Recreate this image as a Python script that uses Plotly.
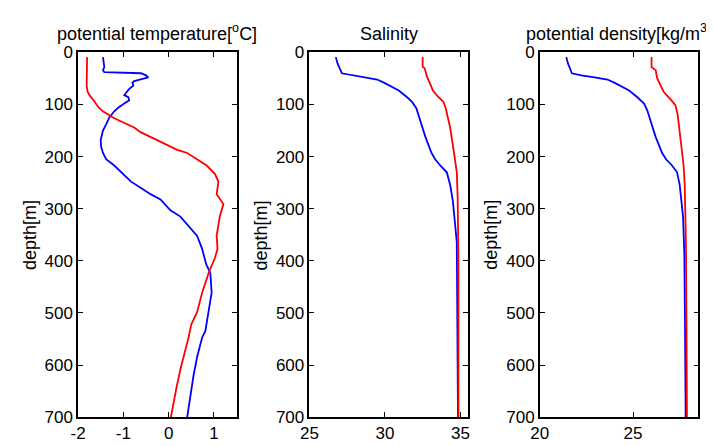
import plotly.graph_objects as go

# ---------------- data ----------------
# Potential temperature [degC]
temp_blue_depth = [9, 28, 34, 38, 40, 44, 48, 52, 55, 58, 64, 70, 82, 86, 92, 98, 105, 113, 125, 138, 150,
                   168, 181, 193, 205, 217, 233, 248, 260, 272, 282, 303, 315, 334, 352, 377, 398, 407, 423,
                   450, 461, 498, 535, 547, 584, 620, 657, 700]
temp_blue = [-1.45, -1.42, -1.45, -1.42, -0.61, -0.50, -0.45, -0.61, -0.76, -0.80, -0.78, -0.87, -0.98, -0.89,
             -0.87, -0.98, -1.10, -1.20, -1.31, -1.38, -1.45, -1.50, -1.49, -1.45, -1.38, -1.20, -1.02, -0.83,
             -0.61, -0.40, -0.18, 0.04, 0.26, 0.44, 0.63, 0.74, 0.81, 0.83, 0.92, 0.94, 0.95, 0.88, 0.81, 0.74,
             0.63, 0.55, 0.48, 0.41]
temp_red_depth = [9, 27, 64, 75, 83, 95, 105, 113, 125, 132, 144, 153, 168, 187, 193, 205, 217, 233, 248, 272,
                  291, 315, 352, 377, 395, 419, 450, 461, 498, 522, 547, 584, 608, 645, 691, 700]
temp_red = [-1.80, -1.80, -1.81, -1.79, -1.74, -1.63, -1.55, -1.45, -1.23, -1.06, -0.76, -0.62, -0.25, 0.19,
            0.41, 0.63, 0.84, 1.02, 1.10, 1.06, 1.21, 1.13, 1.06, 1.08, 1.02, 0.90, 0.77, 0.74, 0.63, 0.50,
            0.44, 0.33, 0.26, 0.17, 0.08, 0.05]

# Salinity
sal_blue_depth = [9, 21, 40, 44, 48, 52, 58, 64, 73, 86, 95, 107, 125, 144, 162, 193, 205, 217, 230, 254, 285,
                  315, 346, 364, 444, 700]
sal_blue = [26.75, 26.86, 27.15, 27.96, 28.84, 29.49, 29.93, 30.37, 30.92, 31.47, 31.80, 32.08, 32.28, 32.45,
            32.68, 33.09, 33.33, 33.66, 34.10, 34.32, 34.50, 34.60, 34.72, 34.76, 34.78, 34.84]
sal_red_depth = [9, 28, 30, 46, 58, 73, 86, 95, 107, 144, 193, 211, 230, 279, 400, 700]
sal_red = [32.50, 32.50, 32.63, 32.78, 32.96, 33.18, 33.55, 33.88, 34.03, 34.32, 34.58, 34.69, 34.76, 34.82,
           34.87, 34.87]

# Potential density [kg/m3]
dens_blue_depth = [9, 21, 40, 44, 48, 52, 58, 64, 73, 86, 98, 111, 132, 162, 193, 205, 217, 230, 254, 285, 315,
                   346, 389, 500, 655, 700]
dens_blue = [21.42, 21.51, 21.72, 22.22, 22.93, 23.63, 23.99, 24.34, 24.79, 25.23, 25.59, 25.76, 25.94, 26.21,
             26.56, 26.77, 27.09, 27.36, 27.50, 27.61, 27.68, 27.71, 27.75, 27.78, 27.82, 27.82]
dens_red_depth = [9, 28, 34, 49, 61, 76, 92, 101, 119, 162, 193, 217, 254, 315, 377, 500, 655, 700]
dens_red = [25.99, 25.99, 26.21, 26.29, 26.44, 26.65, 27.06, 27.27, 27.39, 27.54, 27.62, 27.71, 27.77, 27.82,
            27.84, 27.86, 27.89, 27.89]

titles = ["potential temperature[<sup>o</sup>C]", "Salinity", "potential density[kg/m<sup>3</sup>]"]
x_ranges = [[-2, 1.5], [25, 35.5], [20, 28.5]]
x_ticks = [[-2, -1, 0, 1], [25, 30, 35], [20, 25]]
x_tick_labels = [["-2", "-1", "0", "1"], ["25", "30", "35"], ["20", "25"]]
depth_ticks = [0, 100, 200, 300, 400, 500, 600, 700]
y_label = "depth[m]"

# ---------------- figure ----------------
W, H = 714, 446
OFF = 8  # the page body margin shifts the figure by 8 px
FONT = "Liberation Sans, Arial, sans-serif"
panels_px = [(70, 231), (305, 466), (539, 700)]  # positions in the final picture
top_px, bot_px = 45, 426


def fx(px):
    return (px - OFF) / W


def fy(py):
    return 1 - (py - OFF) / H


fig = go.Figure()
series = [
    (temp_blue, temp_blue_depth, temp_red, temp_red_depth),
    (sal_blue, sal_blue_depth, sal_red, sal_red_depth),
    (dens_blue, dens_blue_depth, dens_red, dens_red_depth),
]
for i, (bx, bd, rx, rd) in enumerate(series):
    sfx = "" if i == 0 else str(i + 1)
    fig.add_trace(go.Scatter(x=bx, y=bd, mode="lines", line=dict(color="#0000ff", width=1.8),
                             xaxis="x" + sfx, yaxis="y" + sfx, showlegend=False))
    fig.add_trace(go.Scatter(x=rx, y=rd, mode="lines", line=dict(color="#ff0000", width=1.8),
                             xaxis="x" + sfx, yaxis="y" + sfx, showlegend=False))

ydom = [fy(bot_px), fy(top_px)]
axis_common = dict(showline=True, linecolor="black", linewidth=1.5, mirror="ticks", ticks="inside",
                   ticklen=5, tickcolor="black", tickwidth=1, showgrid=False, zeroline=False,
                   tickfont=dict(family=FONT, size=17, color="black"))
layout = dict(width=W, height=H, margin=dict(l=0, r=0, t=0, b=0), plot_bgcolor="white",
              paper_bgcolor="white", showlegend=False, annotations=[])
for i, (l, r) in enumerate(panels_px):
    sfx = "" if i == 0 else str(i + 1)
    layout["xaxis" + sfx] = dict(domain=[fx(l), fx(r)], range=x_ranges[i], tickvals=x_ticks[i],
                                 ticktext=x_tick_labels[i], anchor="y" + sfx, **axis_common)
    layout["yaxis" + sfx] = dict(domain=ydom, range=[700, 0], tickvals=depth_ticks,
                                 anchor="x" + sfx, **axis_common)
    cx = fx((l + r) / 2)
    layout["annotations"].append(dict(text=titles[i], x=cx, y=fy(38), xref="paper", yref="paper",
                                      xanchor="center", yanchor="bottom", showarrow=False,
                                      font=dict(family=FONT, size=18, color="black")))
    layout["annotations"].append(dict(text=y_label, x=fx(l - 49), y=fy(236), xref="paper",
                                      yref="paper", xanchor="center", yanchor="middle", textangle=-90,
                                      showarrow=False, font=dict(family=FONT, size=18, color="black")))

fig.update_layout(**layout)
fig.write_html("out.html")
